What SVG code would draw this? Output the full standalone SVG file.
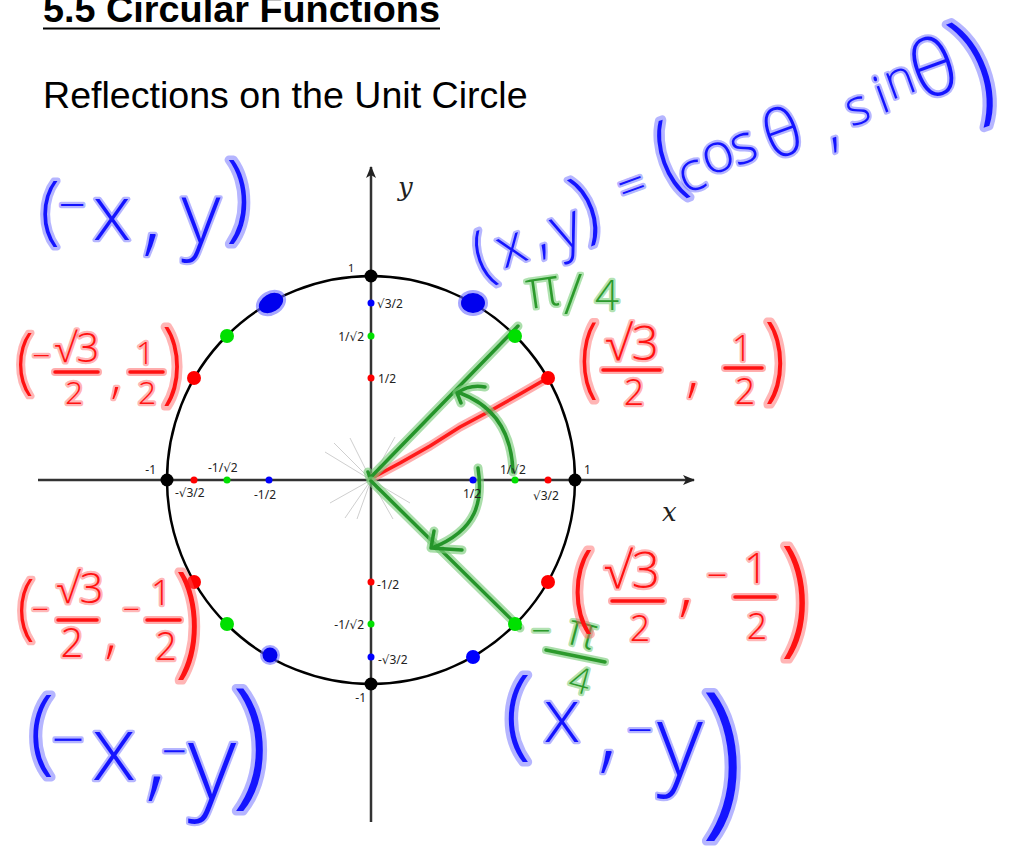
<svg xmlns="http://www.w3.org/2000/svg" width="1020" height="854" viewBox="0 0 1020 854">
<defs>
<style>
.ax{stroke:#333;stroke-width:2.5;fill:none}
.lbl{font-family:"Noto Sans","DejaVu Sans",sans-serif;font-size:12px;fill:#222}
.hw{font-family:"Open Sans Light","Lato Light","Open Sans","DejaVu Sans",sans-serif;font-weight:300;text-anchor:middle;paint-order:stroke;stroke-width:4.5px;stroke-linejoin:round}
.b{fill:#1414ff;stroke:rgba(90,90,255,.45)}
.r{fill:#ff1212;stroke:rgba(255,90,90,.45)}
.g{fill:#2c9a2c;stroke:rgba(80,190,80,.45)}
.gh{stroke:#7ccc7c;stroke-opacity:.65;stroke-width:9;fill:none;stroke-linecap:round;stroke-linejoin:round}
.gc{stroke:#25952a;stroke-width:3.5;fill:none;stroke-linecap:round;stroke-linejoin:round}
.rh{stroke:#ff8a8a;stroke-opacity:.7;stroke-width:9;fill:none;stroke-linecap:round;stroke-linejoin:round}
.rc{stroke:#ff1a1a;stroke-width:3.5;fill:none;stroke-linecap:round;stroke-linejoin:round}
.rbar{stroke:#ff1212;stroke-width:3.5;stroke-linecap:round}
.rbarh{stroke:#ff8a8a;stroke-opacity:.7;stroke-width:8;stroke-linecap:round}
.faint{stroke:#cfcfcf;stroke-width:1}
</style>
<marker id="arr" viewBox="0 0 12 10" refX="11" refY="5" markerWidth="12" markerHeight="10" markerUnits="userSpaceOnUse" orient="auto">
<path d="M0,0 L12,5 L0,10 L3,5 z" fill="#222"/>
</marker>
</defs>
<rect width="1020" height="854" fill="#fff"/>

<g id="title">
<text x="43" y="22" font-family="Liberation Sans, Arial, sans-serif" font-weight="bold" font-size="37.8" fill="#000">5.5 Circular Functions</text>
<line x1="43" y1="28.5" x2="440" y2="28.5" stroke="#000" stroke-width="2.2"/>
<text x="43" y="108" font-family="Liberation Sans, Arial, sans-serif" font-size="37.6" fill="#000">Reflections on the Unit Circle</text>
</g>

<g id="faint-rays">
<line class="faint" x1="371" y1="480" x2="325" y2="452"/>
<line class="faint" x1="371" y1="480" x2="334" y2="443"/>
<line class="faint" x1="371" y1="480" x2="350" y2="438"/>
<line class="faint" x1="371" y1="480" x2="330" y2="503"/>
<line class="faint" x1="371" y1="480" x2="345" y2="518"/>
<line class="faint" x1="371" y1="480" x2="357" y2="519"/>
<line class="faint" x1="371" y1="480" x2="410" y2="503"/>
<line class="faint" x1="371" y1="480" x2="393" y2="519"/>
<line class="faint" x1="371" y1="480" x2="395" y2="437"/>
</g>

<g id="axes">
<line class="ax" x1="38" y1="480" x2="694" y2="480" marker-end="url(#arr)"/>
<line class="ax" x1="371" y1="822" x2="371" y2="167" marker-end="url(#arr)"/>
<text x="398" y="196" font-family="DejaVu Serif, Liberation Serif, serif" font-style="italic" font-size="26" fill="#222">y</text>
<text x="662" y="521" font-family="DejaVu Serif, Liberation Serif, serif" font-style="italic" font-size="26" fill="#222">x</text>
</g>

<g id="unit-circle">
<circle cx="371" cy="480" r="204" fill="none" stroke="#000" stroke-width="2.5"/>
<circle cx="371" cy="276" r="6.5" fill="#000"/>
<circle cx="371" cy="684" r="6.5" fill="#000"/>
<circle cx="167" cy="480" r="6.5" fill="#000"/>
<circle cx="575" cy="480" r="6.5" fill="#000"/>
</g>

<g id="angle-strokes">
<path class="rh" d="M372,478 L400,463 L430,446 L460,427 L490,411 L520,394 L546,379"/>
<path class="rc" d="M372,478 L400,463 L430,446 L460,427 L490,411 L520,394 L546,379"/>
<path class="gh" d="M368,472 L370,478 L518,326"/>
<path class="gc" d="M368,472 L370,478 L518,326"/>
<path class="gh" d="M371,481 L520,628"/>
<path class="gc" d="M371,481 L520,628"/>
<path class="gh" d="M513,472 C512,440 500,408 460,393 M485,387 Q470,384 457,393 L461,403"/>
<path class="gc" d="M513,472 C512,440 500,408 460,393 M485,387 Q470,384 457,393 L461,403"/>
<path class="gh" d="M478,468 C483,500 478,530 432,548 M434,531 L431,548 L462,550"/>
<path class="gc" d="M478,468 C483,500 478,530 432,548 M434,531 L431,548 L462,550"/>
</g>

<g id="circle-points">
<circle cx="548" cy="378" r="7" fill="#ff0000"/>
<circle cx="515" cy="336" r="7" fill="#00e000"/>
<circle cx="194" cy="378" r="7" fill="#ff0000"/>
<circle cx="227" cy="336" r="7" fill="#00e000"/>
<circle cx="194" cy="582" r="7" fill="#ff0000"/>
<circle cx="227" cy="624" r="7" fill="#00e000"/>
<circle cx="548" cy="582" r="7" fill="#ff0000"/>
<circle cx="515" cy="624" r="7" fill="#00e000"/>
<circle cx="473" cy="657" r="7" fill="#0000ff"/>
<ellipse cx="271" cy="303" rx="16" ry="12" transform="rotate(-30 271 303)" fill="#6a6aff" opacity=".6"/>
<ellipse cx="271" cy="303" rx="13" ry="9" transform="rotate(-30 271 303)" fill="#0000ee"/>
<ellipse cx="473" cy="303" rx="15" ry="13" fill="#6a6aff" opacity=".6"/>
<ellipse cx="473" cy="303" rx="12" ry="10" fill="#0000ee"/>
<circle cx="270" cy="655" r="10" fill="#6a6aff" opacity=".6"/>
<circle cx="270" cy="655" r="7.5" fill="#0000ee"/>
</g>

<g id="axis-points">
<circle cx="473" cy="480" r="3.5" fill="#0000ff"/>
<circle cx="515" cy="480" r="3.5" fill="#00e000"/>
<circle cx="548" cy="480" r="3.5" fill="#ff0000"/>
<circle cx="269" cy="480" r="3.5" fill="#0000ff"/>
<circle cx="227" cy="480" r="3.5" fill="#00e000"/>
<circle cx="194" cy="480" r="3.5" fill="#ff0000"/>
<circle cx="371" cy="303" r="3.5" fill="#0000ff"/>
<circle cx="371" cy="336" r="3.5" fill="#00e000"/>
<circle cx="371" cy="378" r="3.5" fill="#ff0000"/>
<circle cx="371" cy="582" r="3.5" fill="#ff0000"/>
<circle cx="371" cy="624" r="3.5" fill="#00e000"/>
<circle cx="371" cy="657" r="3.5" fill="#0000ff"/>
</g>

<g id="axis-labels" class="lbl">
<text x="348" y="272" font-size="11">1</text>
<text x="377" y="308">√3/2</text>
<text x="364" y="341" text-anchor="end">1/√2</text>
<text x="378" y="383">1/2</text>
<text x="156" y="474" text-anchor="end">-1</text>
<text x="175" y="497">-√3/2</text>
<text x="208" y="472">-1/√2</text>
<text x="254" y="499">-1/2</text>
<text x="463" y="498">1/2</text>
<text x="500" y="474">1/√2</text>
<text x="533" y="500">√3/2</text>
<text x="584" y="474">1</text>
<text x="377" y="589">-1/2</text>
<text x="364" y="629" text-anchor="end">-1/√2</text>
<text x="378" y="664">-√3/2</text>
<text x="366" y="702" text-anchor="end">-1</text>
</g>

<g id="note-neg-x-y" class="hw b">
<text font-size="50" transform="translate(50,215) scale(1.4,1.5)" y="13">(</text>
<text font-size="48" transform="translate(72,207)" y="15">−</text>
<text font-size="78" transform="translate(112,219)" y="21">x</text>
<text font-size="90" transform="translate(152,244)" y="0">,</text>
<text font-size="85" transform="translate(201,230)" y="13">y</text>
<text font-size="48" transform="translate(238,204) scale(1.8,2)" y="12.5">)</text>
</g>

<g id="note-xy-cos-sin" class="hw b">
<text font-size="44" transform="translate(484,260) rotate(-20) scale(1.3,1.5)" y="11.5">(</text>
<text font-size="56" transform="translate(512,250) rotate(-20)" y="15">x</text>
<text font-size="60" transform="translate(545,251) rotate(-20)" y="0">,</text>
<text font-size="62" transform="translate(570,238) rotate(-20)" y="9">y</text>
<text font-size="54" transform="translate(587,212) rotate(-20) scale(1.4,1.5)" y="14">)</text>
<text font-size="48" transform="translate(632,186) rotate(-20)" y="16">=</text>
<text font-size="47" transform="translate(670,163) rotate(-20) scale(1.6,2)" y="12">(</text>
<text font-size="55" transform="translate(692,176) rotate(-20)" y="15">c</text>
<text font-size="55" transform="translate(718,157) rotate(-20)" y="15">o</text>
<text font-size="55" transform="translate(744,148) rotate(-20)" y="15">s</text>
<text font-size="65" transform="translate(782,132) rotate(-20)" y="24">θ</text>
<text font-size="60" transform="translate(836,144) rotate(-20)" y="0">,</text>
<text font-size="50" transform="translate(858,110) rotate(-20)" y="14">s</text>
<text font-size="52" transform="translate(881,95) rotate(-20)" y="18">i</text>
<text font-size="50" transform="translate(900,82) rotate(-20)" y="14">n</text>
<text font-size="78" transform="translate(933,67) rotate(-20)" y="29">θ</text>
<text font-size="63" transform="translate(977,75) rotate(-20) scale(1.8,2)" y="16">)</text>
</g>

<g id="note-pi-4" class="hw g">
<text font-size="55" transform="translate(543,292) rotate(-8)" y="15">π</text>
<text font-size="55" transform="translate(573,295)" y="19">/</text>
<text font-size="42" transform="translate(607,295)" y="15">4</text>
</g>

<g id="note-neg-pi-4" class="hw g">
<text font-size="34" transform="translate(541,633)" y="10">−</text>
<text font-size="46" transform="translate(582,635) rotate(15)" y="12">π</text>
<line x1="546" y1="650" x2="605" y2="662" stroke="#7ccc7c" stroke-opacity=".65" stroke-width="8" stroke-linecap="round"/>
<line x1="546" y1="650" x2="605" y2="662" stroke="#2c9a2c" stroke-width="3.5" stroke-linecap="round"/>
<text font-size="36" transform="translate(580,680) rotate(15)" y="13">4</text>
</g>

<g id="note-q2-coords" class="hw r">
<text font-size="48" transform="translate(25,366) scale(1.3,1.5)" y="12.5">(</text>
<text font-size="32" transform="translate(41,357)" y="10">−</text>
<text font-size="40" transform="translate(77,348)" y="14">√3</text>
<line class="rbarh" x1="55" y1="372" x2="98" y2="372"/>
<line class="rbar" x1="55" y1="372" x2="98" y2="372"/>
<text font-size="32" transform="translate(74,392)" y="12">2</text>
<text font-size="50" transform="translate(116,393)" y="0">,</text>
<text font-size="32" transform="translate(145,352)" y="12">1</text>
<line class="rbarh" x1="130" y1="372" x2="163" y2="372"/>
<line class="rbar" x1="130" y1="372" x2="163" y2="372"/>
<text font-size="32" transform="translate(147,392)" y="12">2</text>
<text font-size="45" transform="translate(172,368) scale(1.6,2)" y="12">)</text>
</g>

<g id="note-q1-coords" class="hw r">
<text font-size="44" transform="translate(589,363) scale(1.5,2)" y="11.5">(</text>
<text font-size="48" transform="translate(632,343)" y="17">√3</text>
<line class="rbarh" x1="603" y1="370" x2="660" y2="370"/>
<line class="rbar" x1="603" y1="370" x2="660" y2="370"/>
<text font-size="36" transform="translate(634,392)" y="13">2</text>
<text font-size="60" transform="translate(693,390)" y="0">,</text>
<text font-size="36" transform="translate(742,348)" y="13">1</text>
<line class="rbarh" x1="725" y1="368" x2="762" y2="368"/>
<line class="rbar" x1="725" y1="368" x2="762" y2="368"/>
<text font-size="36" transform="translate(745,391)" y="13">2</text>
<text font-size="47" transform="translate(775,365) scale(1.6,2)" y="12">)</text>
</g>

<g id="note-q3-coords" class="hw r">
<text font-size="48" transform="translate(26,612) scale(1.3,1.5)" y="12.5">(</text>
<text font-size="30" transform="translate(40,610)" y="10">−</text>
<text font-size="42" transform="translate(80,588)" y="15">√3</text>
<line class="rbarh" x1="58" y1="620" x2="97" y2="620"/>
<line class="rbar" x1="58" y1="620" x2="97" y2="620"/>
<text font-size="40" transform="translate(72,643)" y="14">2</text>
<text font-size="55" transform="translate(111,652)" y="0">,</text>
<text font-size="30" transform="translate(131,610)" y="10">−</text>
<text font-size="35" transform="translate(161,592)" y="13">1</text>
<line class="rbarh" x1="147" y1="620" x2="180" y2="620"/>
<line class="rbar" x1="147" y1="620" x2="180" y2="620"/>
<text font-size="38" transform="translate(166,646)" y="14">2</text>
<text font-size="62" transform="translate(188,628) scale(1.5,2)" y="16">)</text>
</g>

<g id="note-q4-coords" class="hw r">
<text font-size="48" transform="translate(583,594) scale(1.6,2)" y="12.5">(</text>
<text font-size="50" transform="translate(632,570)" y="18">√3</text>
<line class="rbarh" x1="612" y1="601" x2="663" y2="601"/>
<line class="rbar" x1="612" y1="601" x2="663" y2="601"/>
<text font-size="36" transform="translate(640,628)" y="13">2</text>
<text font-size="70" transform="translate(686,608)" y="0">,</text>
<text font-size="36" transform="translate(717,577)" y="11">−</text>
<text font-size="42" transform="translate(756,568)" y="15">1</text>
<line class="rbarh" x1="735" y1="597" x2="775" y2="597"/>
<line class="rbar" x1="735" y1="597" x2="775" y2="597"/>
<text font-size="36" transform="translate(757,626)" y="13">2</text>
<text font-size="65" transform="translate(795,605) scale(1.6,2)" y="17">)</text>
</g>

<g id="note-neg-x-neg-y" class="hw b">
<text font-size="47" transform="translate(42,738) scale(1.9,2)" y="12">(</text>
<text font-size="58" transform="translate(68,742)" y="18">−</text>
<text font-size="90" transform="translate(114,756)" y="24">x</text>
<text font-size="100" transform="translate(156,788)" y="0">,</text>
<text font-size="44" transform="translate(174,753)" y="14">−</text>
<text font-size="105" transform="translate(212,783)" y="16">y</text>
<text font-size="70" transform="translate(250,753) scale(1.9,2)" y="18">)</text>
</g>

<g id="note-x-neg-y" class="hw b">
<text font-size="50" transform="translate(518,720) scale(1.9,2)" y="13">(</text>
<text font-size="75" transform="translate(562,722)" y="20">x</text>
<text font-size="90" transform="translate(608,761)" y="0">,</text>
<text font-size="45" transform="translate(640,732)" y="14">−</text>
<text font-size="100" transform="translate(680,760)" y="15">y</text>
<text font-size="85" transform="translate(722,770) scale(1.8,2)" y="22">)</text>
</g>
</svg>
